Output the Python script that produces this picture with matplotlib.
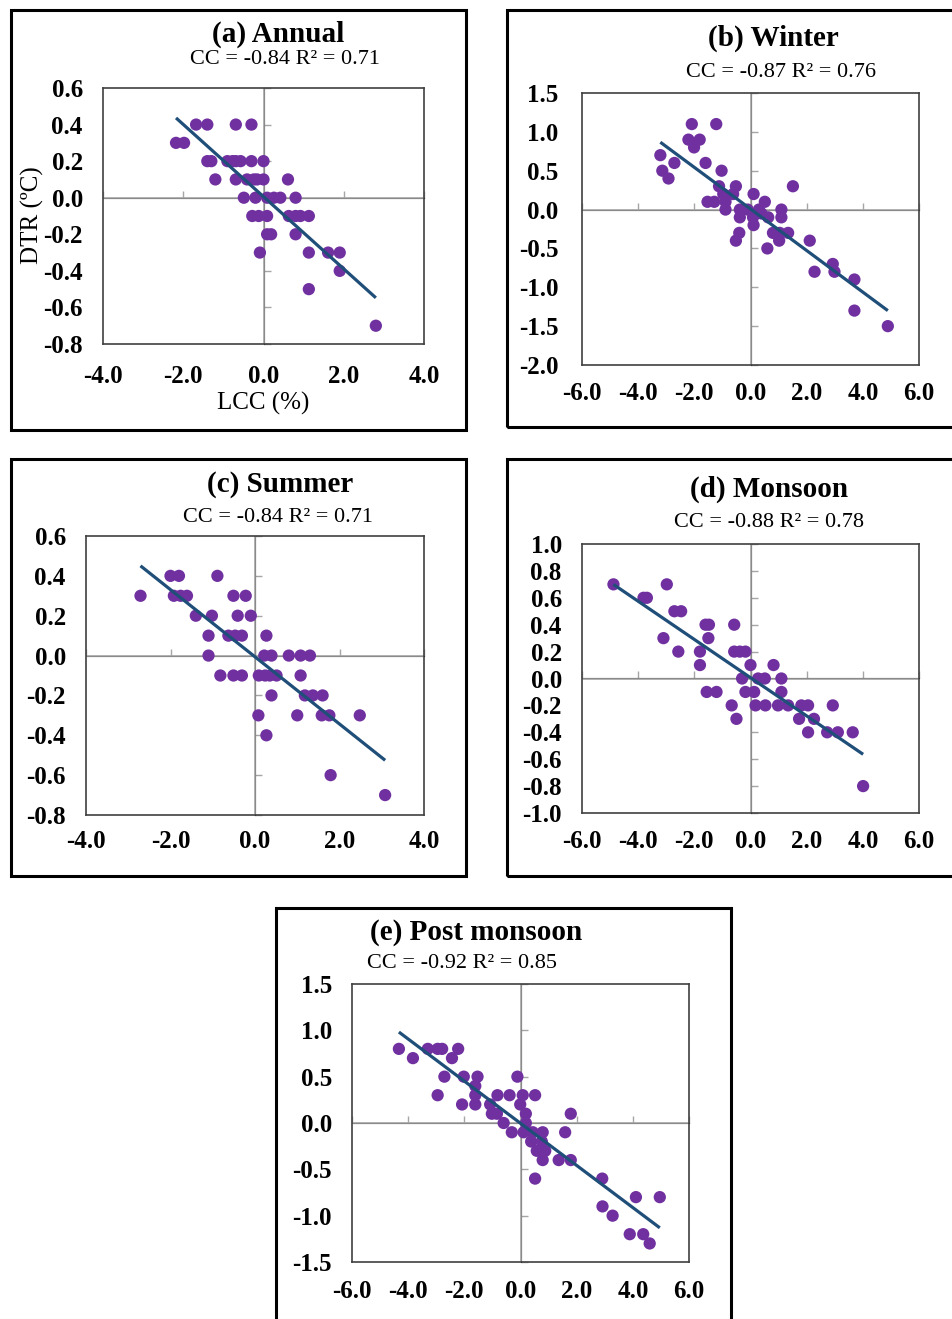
import numpy as np
import matplotlib.pyplot as plt
from matplotlib.patches import Rectangle
from matplotlib.ticker import MultipleLocator, FuncFormatter, NullFormatter

plt.rcParams['font.family'] = ['Liberation Serif', 'DejaVu Serif']

# (a) Annual
lcc_a = [-1.68, -1.40, -0.69, -0.30, -2.18, -1.98,
         -1.40, -1.30, -0.90, -0.77, -0.69, -0.57, -0.30, 0.00,
         -1.20, -0.69, -0.41, -0.24, -0.16, 0.00, 0.61,
         -0.49, -0.20, 0.09, 0.26, 0.42, 0.80,
         -0.28, -0.12, 0.09, 0.63, 0.80, 0.92, 1.13,
         0.09, 0.19, 0.80, -0.09, 1.13, 1.61, 1.90,
         1.90, 1.13, 2.80]
dtr_a = [0.4, 0.4, 0.4, 0.4, 0.3, 0.3,
         0.2, 0.2, 0.2, 0.2, 0.2, 0.2, 0.2, 0.2,
         0.1, 0.1, 0.1, 0.1, 0.1, 0.1, 0.1,
         0.0, 0.0, 0.0, 0.0, 0.0, 0.0,
         -0.1, -0.1, -0.1, -0.1, -0.1, -0.1, -0.1,
         -0.2, -0.2, -0.2, -0.3, -0.3, -0.3, -0.3,
         -0.4, -0.5, -0.7]

# (b) Winter
lcc_b = [-2.09, -1.22, -2.21, -1.81, -2.01, -3.21, -2.71, -1.60, -3.14, -1.03,
         -2.92, 1.51, -1.12, -0.52, -0.97, -0.62, 0.11, 0.51, -1.53, -1.29,
         -0.89, -0.89, -0.38, -0.10, 0.30, 1.10, -0.38, 0.09, 0.39, 0.63,
         1.10, 0.11, 0.80, 1.04, 1.34, -0.40, -0.52, 1.02, 0.60, 2.11,
         2.28, 2.93, 2.99, 3.70, 3.70, 4.89]
dtr_b = [1.10, 1.10, 0.90, 0.90, 0.80, 0.70, 0.60, 0.60, 0.50, 0.50,
         0.40, 0.30, 0.30, 0.30, 0.20, 0.20, 0.20, 0.10, 0.10, 0.10,
         0.10, 0.00, 0.00, 0.00, 0.00, 0.00, -0.10, -0.10, -0.05, -0.10,
         -0.10, -0.20, -0.30, -0.30, -0.30, -0.30, -0.40, -0.40, -0.50, -0.40,
         -0.80, -0.70, -0.80, -0.90, -1.30, -1.50]

# (c) Summer
lcc_c = [-2.00, -1.80, -0.89, -2.71, -1.92, -1.76, -1.61, -0.51, -0.22,
         -1.40, -1.02, -0.41, -0.10, -1.10, -0.63, -0.47, -0.31, 0.27,
         -1.10, 0.22, 0.39, 0.80, 1.08, 1.30,
         -0.82, -0.51, -0.31, 0.09, 0.24, 0.35, 0.51, 1.08,
         0.39, 1.18, 1.37, 1.60, 0.08, 1.00, 1.58, 1.76, 2.48,
         0.27, 1.79, 3.08]
dtr_c = [0.4, 0.4, 0.4, 0.3, 0.3, 0.3, 0.3, 0.3, 0.3,
         0.2, 0.2, 0.2, 0.2, 0.1, 0.1, 0.1, 0.1, 0.1,
         0.0, 0.0, 0.0, 0.0, 0.0, 0.0,
         -0.1, -0.1, -0.1, -0.1, -0.1, -0.1, -0.1, -0.1,
         -0.2, -0.2, -0.2, -0.2, -0.3, -0.3, -0.3, -0.3, -0.3,
         -0.4, -0.6, -0.7]

# (d) Monsoon
lcc_d = [-4.88, -2.98, -3.81, -3.69, -2.71, -2.47, -1.60, -1.48, -0.58,
         -1.50, -3.10, -2.57, -1.80, -0.58, -0.38, -0.18, -1.80, 0.00, 0.82,
         -0.30, 0.27, 0.51, 1.10, -1.56, -1.21, -0.18, 0.13, 1.10,
         -0.67, 0.18, 0.53, 0.98, 1.34, 1.81, 2.05, 2.93,
         -0.50, 1.73, 2.26, 2.05, 2.73, 3.11, 3.64, 4.01]
dtr_d = [0.7, 0.7, 0.6, 0.6, 0.5, 0.5, 0.4, 0.4, 0.4,
         0.3, 0.3, 0.2, 0.2, 0.2, 0.2, 0.2, 0.1, 0.1, 0.1,
         0.0, 0.0, 0.0, 0.0, -0.1, -0.1, -0.1, -0.1, -0.1,
         -0.2, -0.2, -0.2, -0.2, -0.2, -0.2, -0.2, -0.2,
         -0.3, -0.3, -0.3, -0.4, -0.4, -0.4, -0.4, -0.8]

# (e) Post monsoon
lcc_e = [-4.33, -3.83, -3.30, -2.95, -2.79, -2.22, -2.44, -2.71, -2.02, -1.53,
         -0.11, -1.61, -2.95, -1.61, -0.82, -0.39, 0.08, 0.52, -2.08, -1.61,
         -1.08, -0.01, -1.02, -0.84, 0.19, 1.79, -0.60, 0.19, -0.31, 0.11,
         0.44, 0.79, 1.59, 0.38, 0.76, 0.58, 0.88, 0.79, 1.36, 1.79,
         0.52, 2.91, 2.92, 3.28, 4.11, 4.96, 3.89, 4.37, 4.60]
dtr_e = [0.8, 0.7, 0.8, 0.8, 0.8, 0.8, 0.7, 0.5, 0.5, 0.5,
         0.5, 0.4, 0.3, 0.3, 0.3, 0.3, 0.3, 0.3, 0.2, 0.2,
         0.2, 0.2, 0.1, 0.1, 0.1, 0.1, 0.0, 0.0, -0.1, -0.1,
         -0.1, -0.1, -0.1, -0.2, -0.2, -0.3, -0.3, -0.4, -0.4, -0.4,
         -0.6, -0.6, -0.9, -1.0, -0.8, -0.8, -1.2, -1.2, -1.3]

W, H = 952, 1319
fig = plt.figure(figsize=(W / 100, H / 100), dpi=100)

fmt = FuncFormatter(lambda v, p: f"{0.0 if abs(v) < 1e-9 else v:.1f}")


def box(l, t, r, b):
    fig.patches.append(Rectangle((l / W, 1 - b / H), (r - l) / W, (b - t) / H,
                                 transform=fig.transFigure, fill=False,
                                 ec='black', lw=2.2, clip_on=False))


def panel(px, x, y, xlim, ylim, xstep, ystep, xpad=13, ypad=14.5):
    l, t, r, b = px
    ax = fig.add_axes([l / W, 1 - b / H, (r - l) / W, (b - t) / H])
    ax.set_xlim(xlim)
    ax.set_ylim(ylim)
    ax.xaxis.set_major_locator(MultipleLocator(xstep))
    ax.yaxis.set_major_locator(MultipleLocator(ystep))
    ax.xaxis.set_major_formatter(fmt)
    ax.yaxis.set_major_formatter(fmt)
    ax.tick_params(axis='x', length=0, labelsize=18, pad=xpad)
    ax.tick_params(axis='y', length=0, labelsize=18, pad=ypad)
    for lab in ax.get_xticklabels() + ax.get_yticklabels():
        lab.set_fontweight('bold')
    for s in ax.spines.values():
        s.set_color('#404040')
        s.set_linewidth(1.2)

    # axes crossing at zero, Excel style, with small gray tick marks
    gray = '#a6a6a6'
    ax.axhline(0, color=gray, lw=1.2, zorder=1)
    ax.axvline(0, color=gray, lw=1.2, zorder=1)
    sx = ax.secondary_xaxis((0 - ylim[0]) / (ylim[1] - ylim[0]))
    sx.xaxis.set_major_locator(MultipleLocator(xstep))
    sx.xaxis.set_major_formatter(NullFormatter())
    sx.tick_params(length=5, width=1, color=gray)
    sx.spines['bottom'].set_visible(False)
    sy = ax.secondary_yaxis((0 - xlim[0]) / (xlim[1] - xlim[0]))
    sy.yaxis.set_major_locator(MultipleLocator(ystep))
    sy.yaxis.set_major_formatter(NullFormatter())
    sy.tick_params(length=5, width=1, color=gray)
    sy.spines['left'].set_visible(False)

    ax.scatter(x, y, s=78, color='#7030a0', edgecolors='none', zorder=3)
    k, c = np.polyfit(x, y, 1)
    xs = np.array([min(x), max(x)])
    ax.plot(xs, k * xs + c, color='#1f4e79', lw=2.3, zorder=4,
            solid_capstyle='butt')
    return ax


def titles(cx, ty, sx_, sy_, title, sub):
    fig.text(cx / W, 1 - ty / H, title, ha='center', va='baseline',
             fontsize=21, fontweight='bold')
    fig.text(sx_ / W, 1 - sy_ / H, sub, ha='center', va='baseline', fontsize=16)


# panel boxes
box(11, 10, 466, 430)
box(507, 10, 960, 427)
box(11, 459, 466, 876)
box(507, 459, 960, 876)
box(276, 908, 731, 1330)

panel((103, 88, 424, 344), lcc_a, dtr_a, (-4, 4), (-0.8, 0.6), 2.0, 0.2, xpad=15)
panel((582, 93, 919, 365), lcc_b, dtr_b, (-6, 6), (-2.0, 1.5), 2.0, 0.5, xpad=12, ypad=17)
panel((86, 536, 424, 815), lcc_c, dtr_c, (-4, 4), (-0.8, 0.6), 2.0, 0.2, xpad=11)
panel((582, 544, 919, 813), lcc_d, dtr_d, (-6, 6), (-1.0, 1.0), 2.0, 0.2, xpad=12)
panel((352, 984, 689, 1262), lcc_e, dtr_e, (-6, 6), (-1.5, 1.5), 2.0, 0.5, xpad=13)

titles(278, 42, 285, 64, '(a) Annual', 'CC = -0.84 R² = 0.71')
titles(773, 46, 781, 77, '(b) Winter', 'CC = -0.87 R² = 0.76')
titles(280, 492, 278, 522, '(c) Summer', 'CC = -0.84 R² = 0.71')
titles(769, 497, 769, 527, '(d) Monsoon', 'CC = -0.88 R² = 0.78')
titles(476, 940, 462, 968, '(e) Post monsoon', 'CC = -0.92 R² = 0.85')

fig.text(263 / W, 1 - 410 / H, 'LCC (%)', ha='center', va='baseline', fontsize=18)
fig.text(32 / W, 1 - 215 / H, 'DTR (ºC)', ha='center', va='center',
         rotation=90, fontsize=18)

fig.savefig('out.png', dpi=100)
